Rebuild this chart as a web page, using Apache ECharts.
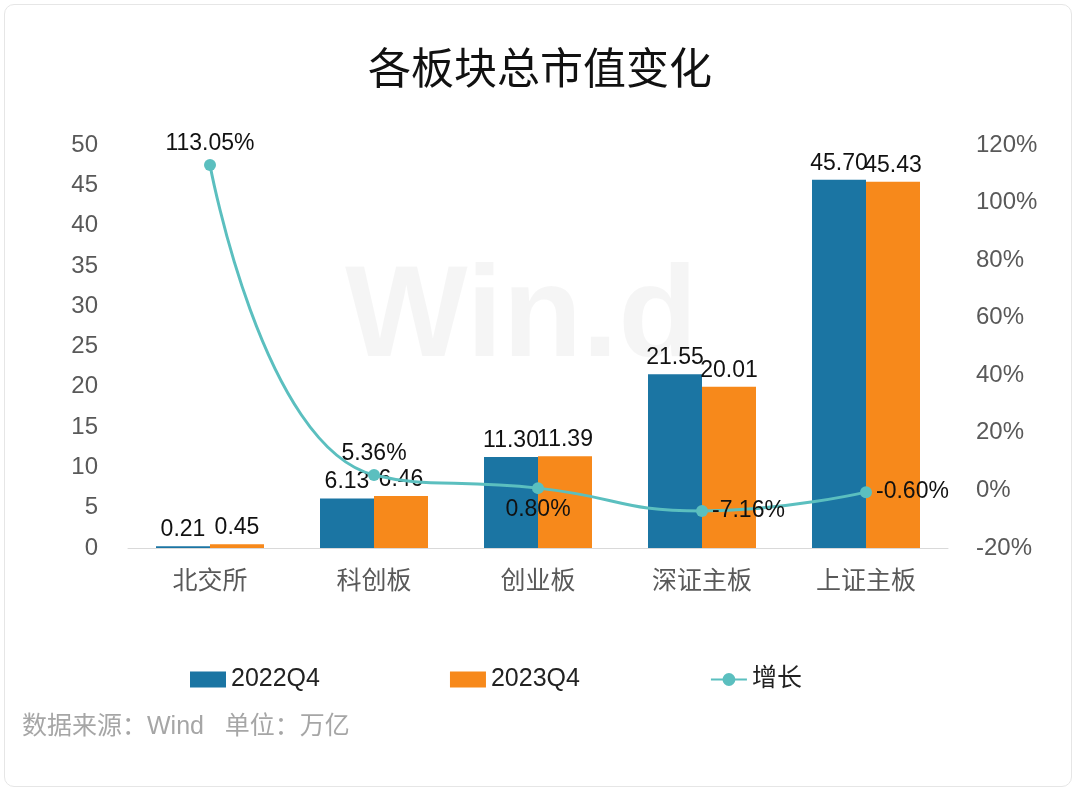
<!DOCTYPE html>
<html>
<head>
<meta charset="utf-8">
<script src="https://cdn.jsdelivr.net/npm/echarts@6/dist/echarts.min.js"></script>
<style>
  html, body { margin: 0; padding: 0; background: #fff; }
  #box { position: absolute; left: 4px; top: 4px; width: 1068px; height: 783px;
         border: 1px solid #e6e6e6; border-radius: 10px; box-sizing: border-box; }
  #chart { width: 1080px; height: 795px; }
</style>
</head>
<body>
<div id="box"></div>
<div id="chart"></div>
<script>
// 分类
const categories = ['北交所', '科创板', '创业板', '深证主板', '上证主板'];
// 市值（万亿）
const value2022 = [0.21, 6.13, 11.30, 21.55, 45.70];
const value2023 = [0.45, 6.46, 11.39, 20.01, 45.43];
// 增长（%）
const growth = [113.05, 5.36, 0.80, -7.16, -0.60];
const growthLabelPos = ['top', 'top', 'bottom', 'right', 'right'];

const textColor = '#595959';
const font = '"Liberation Sans", "Noto Sans CJK SC", sans-serif';

const chart = echarts.init(document.getElementById('chart'));

const option = {
  backgroundColor: 'transparent',
  title: {
    text: '各板块总市值变化', left: 'center', top: 46,
    textStyle: { fontSize: 43, fontWeight: 'normal', color: '#111', fontFamily: font }
  },
  graphic: [
    { type: 'text', left: 345, top: 255,
      style: { text: 'Win.d', fontSize: 130, fontWeight: 'bold', fill: 'rgba(0,0,0,0.04)', fontFamily: 'Liberation Sans' } },
    { type: 'text', left: 22, top: 715,
      style: { text: '数据来源：Wind   单位：万亿', fontSize: 25, fill: '#a6a6a6', fontFamily: font } }
  ],
  legend: {
    top: 662, left: 185, itemGap: 130, itemWidth: 36, itemHeight: 16,
    textStyle: { fontSize: 25, color: '#222', fontFamily: font, width: 110 },
    data: [
      { name: '2022Q4', icon: 'rect' },
      { name: '2023Q4', icon: 'rect' },
      { name: '增长' }
    ]
  },
  grid: { left: 128, right: 132, top: 145, bottom: 247 },
  xAxis: {
    type: 'category', data: categories,
    axisLine: { lineStyle: { color: '#d9d9d9' } },
    axisTick: { show: false },
    axisLabel: { fontSize: 25, color: textColor, margin: 22, fontFamily: font }
  },
  yAxis: [
    { type: 'value', min: 0, max: 50, interval: 5,
      splitLine: { show: false },
      axisLabel: { fontSize: 24, color: textColor, margin: 30, fontFamily: font } },
    { type: 'value', min: -20, max: 120, interval: 20,
      splitLine: { show: false },
      axisLabel: { fontSize: 24, color: textColor, margin: 28, formatter: '{value}%', fontFamily: font } }
  ],
  series: [
    { name: '2022Q4', type: 'bar', data: value2022, barWidth: 54, barGap: '0%',
      itemStyle: { color: '#1b75a3' },
      label: { show: true, position: 'top', fontSize: 23, color: '#111', formatter: p => p.value.toFixed(2), fontFamily: font } },
    { name: '2023Q4', type: 'bar', data: value2023, barWidth: 54,
      itemStyle: { color: '#f7891b' },
      label: { show: true, position: 'top', fontSize: 23, color: '#111', formatter: p => p.value.toFixed(2), fontFamily: font } },
    { name: '增长', type: 'line', yAxisIndex: 1, smooth: true,
      data: growth.map((v, i) => ({ value: v, label: { position: growthLabelPos[i] } })),
      symbol: 'circle', symbolSize: 12,
      lineStyle: { color: '#5bbfbf', width: 3 },
      itemStyle: { color: '#5bbfbf' },
      label: { show: true, fontSize: 23, color: '#111', distance: 4, formatter: p => p.value.toFixed(2) + '%', fontFamily: font } }
  ]
};
chart.setOption(option);
</script>
</body>
</html>
